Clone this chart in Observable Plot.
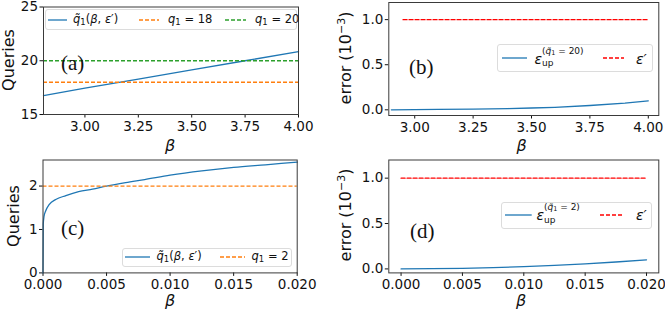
<!DOCTYPE html>
<html>
<head>
<meta charset="utf-8">
<script src="https://cdn.jsdelivr.net/npm/d3@7"></script>
<script src="https://cdn.jsdelivr.net/npm/@observablehq/plot@0.6"></script>
<style>
  html, body { margin: 0; padding: 0; background: #fff; }
  #c { position: relative; width: 665px; height: 312px; background: #fff; overflow: hidden; font-family: "DejaVu Sans", sans-serif; color: #111; }
  .t { position: absolute; white-space: nowrap; line-height: 1; }
  .lg { position: absolute; border: 1px solid #dcdcdc; border-radius: 3px; background: rgba(255,255,255,0.85); box-sizing: border-box; }
  .it { font-style: italic; }
</style>
</head>
<body>
<div id="c"></div>
<script>
// ---------- data ----------
// panel (a)
const betaA = [2.806, 3.0, 3.25, 3.5, 3.75, 4.0];
const qTildeA = [16.75, 17.45, 18.3, 19.15, 20.0, 20.85];
const q1A = [18, 20];
// panel (b)
const betaB = [2.9, 3.0, 3.1, 3.25, 3.4, 3.5, 3.6, 3.75, 3.9, 4.0];
const errB = [0.0, 0.002, 0.004, 0.008, 0.014, 0.02, 0.028, 0.048, 0.075, 0.10];
const epsRangeB = [2.95, 4.0];
const epsPrime = 1.0;
// panel (c)
const betaC = [0, 0.00002, 0.00008, 0.0002, 0.0005, 0.001, 0.0018, 0.0028, 0.0039, 0.005, 0.0065, 0.008, 0.010, 0.0125, 0.015, 0.0175, 0.02];
const qTildeC = [0, 1.12, 1.3, 1.42, 1.58, 1.69, 1.78, 1.87, 1.93, 2.0, 2.08, 2.15, 2.25, 2.35, 2.43, 2.49, 2.55];
const q1C = 2;
// panel (d)
const betaD = [0, 0.0025, 0.005, 0.0075, 0.01, 0.0125, 0.015, 0.0175, 0.02];
const errD = [0, 0.002, 0.006, 0.014, 0.025, 0.039, 0.056, 0.076, 0.10];
const epsRangeD = [0, 0.02];
// ticks
const ticksXab = [3.0, 3.25, 3.5, 3.75, 4.0];
const ticksXcd = [0, 0.005, 0.01, 0.015, 0.02];
const ticksYa = [15, 20, 25];
const ticksYc = [0, 1, 2];
const ticksYbd = [0, 0.5, 1.0];

// ---------- style ----------
const BLUE = "#1f77b4", ORANGE = "#ff7f0e", GREEN = "#2ca02c", RED = "#ff0000";
const DASH = "4,2";
const root = document.getElementById("c");

function panel(o) {
  const svg = Plot.plot({
    width: o.w, height: o.h,
    marginLeft: o.fx0 - o.left, marginRight: o.left + o.w - o.fx1,
    marginTop: o.fy0 - o.top, marginBottom: o.top + o.h - o.fy1,
    style: { fontFamily: "DejaVu Sans, sans-serif", fontSize: "13.5px", color: "#111", background: "transparent", overflow: "visible" },
    x: { domain: o.xd, ticks: o.xt, tickFormat: d3.format(o.xf), label: null, tickSize: 3.5, tickPadding: 3 },
    y: { domain: o.yd, ticks: o.yt, tickFormat: d3.format(o.yf), label: null, tickSize: 3.5, tickPadding: 2 },
    marks: [...o.marks, Plot.frame({ stroke: "#3a3a3a", strokeWidth: 1 })]
  });
  svg.style.position = "absolute";
  svg.style.left = o.left + "px";
  svg.style.top = o.top + "px";
  svg.style.maxWidth = "none";
  root.appendChild(svg);
}

const rows = (xs, ys) => xs.map((x, i) => ({ x, y: ys[i] }));

// (a)
panel({
  left: 0, top: 0, w: 332, h: 155, fx0: 43, fx1: 298, fy0: 6.5, fy1: 114,
  xd: [betaA[0], betaA[betaA.length - 1]], yd: [15, 25], xt: ticksXab, yt: ticksYa, xf: ".2f", yf: "d",
  marks: [
    Plot.line(rows(betaA, qTildeA), { x: "x", y: "y", stroke: BLUE, strokeWidth: 1.3 }),
    Plot.ruleY([q1A[0]], { stroke: ORANGE, strokeWidth: 1.3, strokeDasharray: DASH }),
    Plot.ruleY([q1A[1]], { stroke: GREEN, strokeWidth: 1.3, strokeDasharray: DASH })
  ]
});
// (b)
panel({
  left: 333, top: 0, w: 332, h: 155, fx0: 388.3, fx1: 658.3, fy0: 2, fy1: 115,
  xd: [2.889, 4.045], yd: [-0.063, 1.19], xt: ticksXab, yt: ticksYbd, xf: ".2f", yf: ".1f",
  marks: [
    Plot.line(rows(betaB, errB), { x: "x", y: "y", stroke: BLUE, strokeWidth: 1.3 }),
    Plot.line(rows(epsRangeB, [epsPrime, epsPrime]), { x: "x", y: "y", stroke: RED, strokeWidth: 1.3, strokeDasharray: DASH })
  ]
});
// (c)
panel({
  left: 0, top: 155, w: 332, h: 157, fx0: 42.5, fx1: 296.7, fy0: 159.5, fy1: 272.4,
  xd: [0, 0.02], yd: [0, 2.6], xt: ticksXcd, yt: ticksYc, xf: ".3f", yf: "d",
  marks: [
    Plot.line(rows(betaC, qTildeC), { x: "x", y: "y", stroke: BLUE, strokeWidth: 1.3, curve: "monotone-x" }),
    Plot.ruleY([q1C], { stroke: ORANGE, strokeWidth: 1.3, strokeDasharray: DASH })
  ]
});
// (d)
panel({
  left: 333, top: 155, w: 332, h: 157, fx0: 388.3, fx1: 658.3, fy0: 159.5, fy1: 272.4,
  xd: [-0.001, 0.021], yd: [-0.044, 1.2], xt: ticksXcd, yt: ticksYbd, xf: ".3f", yf: ".1f",
  marks: [
    Plot.line(rows(betaD, errD), { x: "x", y: "y", stroke: BLUE, strokeWidth: 1.3 }),
    Plot.line(rows(epsRangeD, [epsPrime, epsPrime]), { x: "x", y: "y", stroke: RED, strokeWidth: 1.3, strokeDasharray: DASH })
  ]
});

// ---------- text helpers ----------
function txt(x, y, html, style = "", anchor = "left") {
  const d = document.createElement("div");
  d.className = "t";
  d.innerHTML = html;
  const tx = anchor === "center" ? "-50%" : "0";
  d.style.cssText = `left:${x}px;top:${y}px;transform:translate(${tx},-50%);${style}`;
  root.appendChild(d);
  return d;
}
function vtxt(cx, cy, html, style = "") {
  const d = document.createElement("div");
  d.className = "t";
  d.innerHTML = html;
  d.style.cssText = `left:${cx}px;top:${cy}px;transform:translate(-50%,-50%) rotate(-90deg);${style}`;
  root.appendChild(d);
}
function box(x0, y0, x1, y1) {
  const d = document.createElement("div");
  d.className = "lg";
  d.style.cssText = `left:${x0}px;top:${y0}px;width:${x1 - x0}px;height:${y1 - y0}px;`;
  root.appendChild(d);
}
function swatch(x0, x1, y, color, dashed) {
  const ns = "http://www.w3.org/2000/svg";
  const s = document.createElementNS(ns, "svg");
  s.setAttribute("width", x1 - x0 + 2);
  s.setAttribute("height", 6);
  s.style.cssText = `position:absolute;left:${x0 - 1}px;top:${y - 3}px;`;
  const l = document.createElementNS(ns, "line");
  l.setAttribute("x1", 1); l.setAttribute("x2", x1 - x0 + 1);
  l.setAttribute("y1", 3); l.setAttribute("y2", 3);
  l.setAttribute("stroke", color); l.setAttribute("stroke-width", 1.3);
  if (dashed) l.setAttribute("stroke-dasharray", DASH);
  s.appendChild(l);
  root.appendChild(s);
}

const AX = "font-size:16px;";
const PL = "font-family:'Liberation Serif','DejaVu Serif',serif;font-size:21px;";
const LG = "font-size:11.5px;";
const qtilde = `<span class="it">q&#771;</span><span style="font-size:8.5px;vertical-align:-2px">1</span>(<span class="it">β</span>, <span class="it">ε</span>′)`;
const q1 = v => `<span class="it">q</span><span style="font-size:8.5px;vertical-align:-2px">1</span> = ${v}`;

// axis labels
vtxt(9, 60, "Queries", AX);
vtxt(14, 216, "Queries", AX);
vtxt(345, 58, "error (10<sup style='font-size:11px;vertical-align:6px'>−3</sup>)", AX);
vtxt(345, 215, "error (10<sup style='font-size:11px;vertical-align:6px'>−3</sup>)", AX);
txt(170, 145.5, "β", AX + "font-style:italic;", "center");
txt(521.5, 146, "β", AX + "font-style:italic;", "center");
txt(170, 301, "β", AX + "font-style:italic;", "center");
txt(521, 301, "β", AX + "font-style:italic;", "center");

// panel tags
txt(61, 63, "(a)", PL);
txt(409, 67, "(b)", PL);
txt(61, 228, "(c)", PL);
txt(410, 231, "(d)", PL);

// legend (a)
box(44.7, 9.3, 296.7, 30.5);
swatch(48, 67, 20, BLUE, false);
txt(73, 20, qtilde, LG);
swatch(139, 159, 20, ORANGE, true);
txt(168, 20, q1(18), LG);
swatch(225, 246, 20, GREEN, true);
txt(255, 20, q1(20), LG);

// legend (c)
box(121.7, 248.3, 291.7, 266.7);
swatch(125, 150, 257.3, BLUE, false);
txt(156.5, 257.3, qtilde, LG);
swatch(220, 245, 257.3, ORANGE, true);
txt(251.5, 257.3, q1(2), LG);

// legend (b)
const supq = v => `(<span class="it">q&#771;</span><span style="font-size:6.5px;vertical-align:-1px">1</span> = ${v})`;
box(496.7, 44, 653.3, 71.7);
swatch(501.7, 526.7, 58, BLUE, false);
txt(534.5, 58.5, "ε", "font-size:14px;font-style:italic;");
txt(542, 51.5, supq(20), "font-size:9px;");
txt(542, 63, "up", "font-size:9px;");
swatch(603, 624, 58, RED, true);
txt(636, 58.5, "ε′", "font-size:14px;font-style:italic;");

// legend (d)
box(501, 201.7, 651.7, 229);
swatch(505, 531.7, 214.5, BLUE, false);
txt(536.5, 215, "ε", "font-size:14px;font-style:italic;");
txt(544, 208, supq(2), "font-size:9px;");
txt(544, 219.5, "up", "font-size:9px;");
swatch(600, 623, 214.5, RED, true);
txt(636, 215, "ε′", "font-size:14px;font-style:italic;");
</script>
</body>
</html>
